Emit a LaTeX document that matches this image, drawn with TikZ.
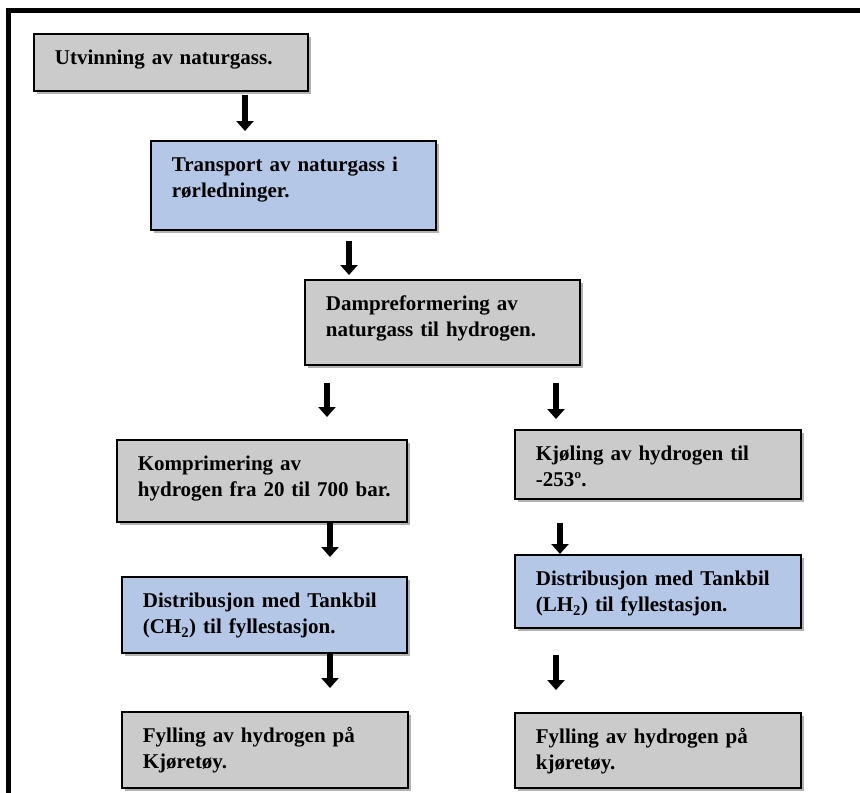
\documentclass[tikz,border=0pt]{standalone}
\usepackage{fontspec}
\setmainfont{Liberation Serif}
\usepackage{xcolor}
\usepackage{tikz}
\usetikzlibrary{arrows.meta,shadows}
\definecolor{stageGray}{HTML}{CBCBCB}
\definecolor{stageBlue}{HTML}{B4C7E7}

\begin{document}
\begin{tikzpicture}[x=1pt, y=-1pt,
  stage/.style 2 args={draw=black, line width=1.8pt, anchor=north west, align=left, inner xsep=21pt, inner ysep=0pt, text height=31pt, text width=#1, text depth=#2, font=\fontsize{21}{26}\selectfont\bfseries, drop shadow={shadow xshift=3pt, shadow yshift=-3pt, opacity=0.3, fill=black}},
  gstage/.style 2 args={stage={#1}{#2}, fill=stageGray},
  bstage/.style 2 args={stage={#1}{#2}, fill=stageBlue},
  flow/.style={-{Triangle[length=10pt, width=17pt]}, line width=6pt, color=black}
]
  \useasboundingbox (0,0) rectangle (860,793);
  \draw[line width=4.5pt] (8.5,793) |- (860,10.5);
  \node[gstage={232pt}{26pt}] (utv) at (33,33) {Utvinning av naturgass.};
  \node[bstage={243pt}{58pt}] (trans) at (150,140) {Transport av naturgass i\\rørledninger.};
  \node[gstage={233pt}{54pt}] (damp) at (304,279) {Dampreformering av\\naturgass til hydrogen.};
  \node[gstage={248pt}{51pt}] (komp) at (116,439) {Komprimering av\\\mbox{hydrogen fra 20 til 700 bar.}};
  \node[gstage={244pt}{38pt}] (kjol) at (514,429) {Kjøling av hydrogen til\\-253º.};
  \node[bstage={243pt}{45pt}] (distc) at (121,576) {Distribusjon med Tankbil\\(CH\textsubscript{2}) til fyllestasjon.};
  \node[bstage={244pt}{42pt}] (distl) at (514,554) {Distribusjon med Tankbil\\(LH\textsubscript{2}) til fyllestasjon.};
  \node[gstage={244pt}{45pt}] (fyllc) at (121,711) {Fylling av hydrogen på\\Kjøretøy.};
  \node[gstage={244pt}{44pt}] (fylll) at (514,712) {Fylling av hydrogen på\\kjøretøy.};
  % arrow columns
  \coordinate (c1) at (245,0);
  \coordinate (c2) at (349,0);
  \coordinate (c3) at (327,0);
  \coordinate (c4) at (556,0);
  \coordinate (c5) at (330,0);
  \coordinate (c6) at (560,0);
  \draw[flow] ([yshift=-3pt]utv.south -| c1) -- ([yshift=9pt]trans.north -| c1);
  \draw[flow] ([yshift=-10pt]trans.south -| c2) -- ([yshift=4pt]damp.north -| c2);
  \draw[flow] ([yshift=-17pt]damp.south -| c3) -- ([yshift=22pt]komp.north -| c3);
  \draw[flow] ([yshift=-17pt]damp.south -| c4) -- ([yshift=10pt]kjol.north -| c4);
  \draw[flow] (komp.south -| c5) -- ([yshift=19pt]distc.north -| c5);
  \draw[flow] ([yshift=-23pt]kjol.south -| c6) -- (distl.north -| c6);
  \draw[flow] (distc.south -| c5) -- ([yshift=23pt]fyllc.north -| c5);
  \draw[flow] ([yshift=-26pt]distl.south -| c4) -- ([yshift=22pt]fylll.north -| c4);
\end{tikzpicture}
\end{document}
